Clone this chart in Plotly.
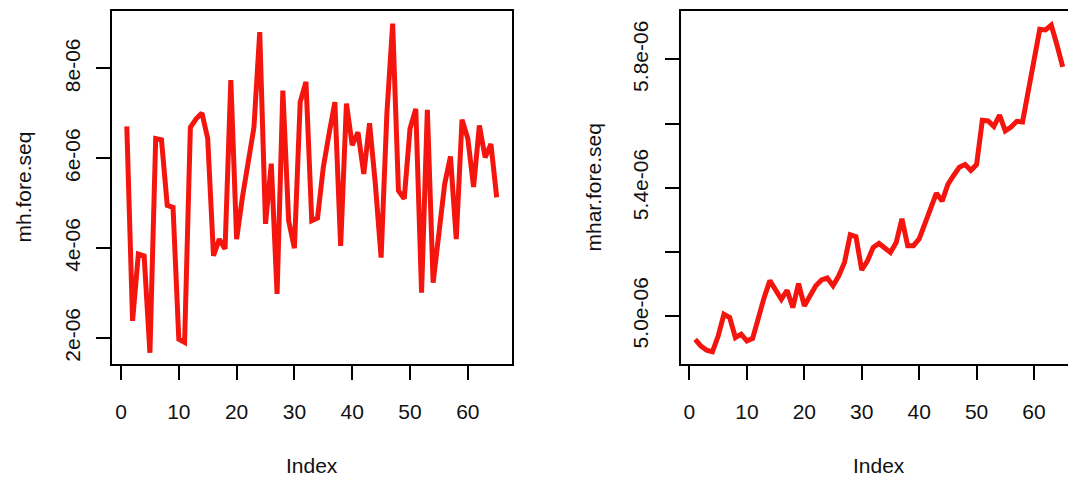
import plotly.graph_objects as go

# ---- data (values in units of 1e-6) ----
index = list(range(1, 66))

mh_fore_seq = [6.71, 2.38, 3.87, 3.83, 1.67, 6.44, 6.41, 4.95, 4.91, 1.97,
               1.90, 6.69, 6.88, 7.01, 6.44, 3.83, 4.20, 3.98, 7.74, 4.20,
               5.13, 5.88, 6.69, 8.81, 4.54, 5.88, 2.98, 7.51, 4.61, 4.00,
               7.25, 7.70, 4.61, 4.67, 5.80, 6.55, 7.25, 4.05, 7.22, 6.29,
               6.58, 5.65, 6.78, 5.43, 3.79, 7.00, 9.00, 5.28, 5.10, 6.66,
               7.10, 3.01, 7.08, 3.23, 4.46, 5.43, 6.04, 4.20, 6.86, 6.44,
               5.36, 6.73, 6.02, 6.32, 5.13]

mhar_fore_seq = [4.927, 4.906, 4.893, 4.888, 4.937, 5.005, 4.995, 4.932, 4.943, 4.922,
                 4.930, 4.995, 5.057, 5.110, 5.083, 5.052, 5.080, 5.026, 5.101, 5.031,
                 5.063, 5.094, 5.112, 5.118, 5.094, 5.125, 5.167, 5.253, 5.247, 5.143,
                 5.172, 5.214, 5.226, 5.212, 5.198, 5.229, 5.303, 5.219, 5.219, 5.240,
                 5.287, 5.339, 5.383, 5.358, 5.410, 5.438, 5.464, 5.472, 5.454, 5.472,
                 5.610, 5.608, 5.591, 5.626, 5.577, 5.589, 5.607, 5.605, 5.704, 5.803,
                 5.894, 5.892, 5.907, 5.845, 5.777]

x_ticks = [0, 10, 20, 30, 40, 50, 60]
left_y_ticks = [2e-6, 4e-6, 6e-6, 8e-6]
left_y_labels = ["2e-06", "4e-06", "6e-06", "8e-06"]
right_y_ticks = [5.0e-6, 5.2e-6, 5.4e-6, 5.6e-6, 5.8e-6]
right_y_labels = ["5.0e-06", "", "5.4e-06", "", "5.8e-06"]

W, H = 1068, 477
FONT = "Liberation Sans, Arial, sans-serif"
LINE_COLOR = "#f3150e"

fig = go.Figure()
fig.add_trace(go.Scatter(x=index, y=[v * 1e-6 for v in mh_fore_seq], mode="lines",
                         line=dict(color=LINE_COLOR, width=5), xaxis="x", yaxis="y",
                         showlegend=False, hoverinfo="skip"))
fig.add_trace(go.Scatter(x=index, y=[v * 1e-6 for v in mhar_fore_seq], mode="lines",
                         line=dict(color=LINE_COLOR, width=5), xaxis="x2", yaxis="y2",
                         showlegend=False, hoverinfo="skip"))

ydom = [1 - 364 / H, 1 - 11 / H]
common_ax = dict(showgrid=False, zeroline=False, showline=True, linecolor="black",
                 linewidth=1.7, ticks="outside", ticklen=14, tickwidth=1.7,
                 tickcolor="black", tickfont=dict(family=FONT, size=21, color="#111"))

fig.update_layout(
    width=W, height=H,
    margin=dict(l=0, r=0, t=0, b=0),
    paper_bgcolor="white", plot_bgcolor="white",
    xaxis=dict(domain=[112 / W, 511.5 / W], range=[-1.56, 67.56],
               tickvals=x_ticks, mirror=True, anchor="y",
               ticklabelstandoff=14, **common_ax),
    yaxis=dict(domain=ydom, range=[1.42e-6, 9.28e-6], tickvals=left_y_ticks,
               ticktext=left_y_labels, tickangle=-90, mirror=True, anchor="x",
               ticklabelstandoff=8, **common_ax),
    xaxis2=dict(domain=[680.5 / W, 1.0], range=[-1.56, (W - 689.3) / 5.745],
                tickvals=x_ticks, mirror=True, anchor="y2",
                ticklabelstandoff=14, **common_ax),
    yaxis2=dict(domain=ydom, range=[4.850e-6, 5.951e-6], tickvals=right_y_ticks,
                ticktext=right_y_labels, tickangle=-90, mirror=False, anchor="x2",
                ticklabelstandoff=8, **common_ax),
)

def ann(text, px, py, angle=0):
    fig.add_annotation(text=text, x=px / W, y=1 - py / H, xref="paper", yref="paper",
                       showarrow=False, textangle=angle, xanchor="center", yanchor="middle",
                       font=dict(family=FONT, size=21, color="#111"))

ann("Index", 311.5, 465)
ann("Index", 878.5, 465)
ann("mh.fore.seq", 23, 187.5, -90)
ann("mhar.fore.seq", 593, 187.5, -90)

fig.write_html("out.html", config={"displayModeBar": False},
               post_script="document.body.style.margin='0';document.body.style.overflow='hidden';")
